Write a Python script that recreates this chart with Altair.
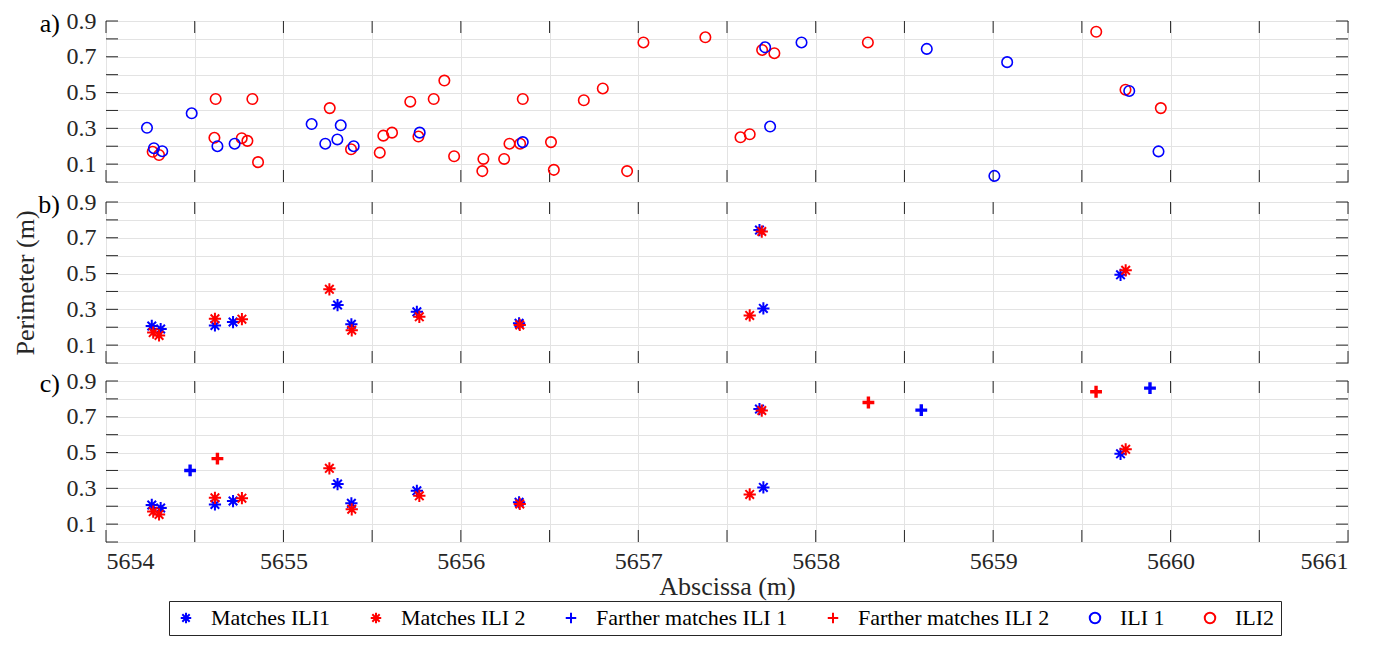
import altair as alt
import pandas as pd

# ---------------- data ----------------
SERIES = ["Matches ILI1", "Matches ILI 2", "Farther matches ILI 1",
          "Farther matches ILI 2", "ILI 1", "ILI2"]
PANEL_LABELS = ["a)", "b)", "c)"]

ili1_x = [5654.231, 5654.270, 5654.317, 5654.483, 5654.628, 5654.725, 5655.159,
          5655.236, 5655.304, 5655.323, 5655.396, 5655.768, 5656.349, 5657.715,
          5657.743, 5657.920, 5658.626, 5659.079, 5659.007, 5659.767, 5659.932]
ili1_y = [0.303, 0.189, 0.172, 0.384, 0.200, 0.214, 0.324, 0.214, 0.238, 0.317,
          0.200, 0.276, 0.223, 0.753, 0.310, 0.780, 0.744, 0.670, 0.034, 0.509,
          0.171]

ili2_x = [5654.263, 5654.299, 5654.618, 5654.611, 5654.765, 5654.797, 5654.825,
          5654.857, 5655.261, 5655.381, 5655.543, 5655.563, 5655.612, 5655.715,
          5655.761, 5655.847, 5655.907, 5655.962, 5656.121, 5656.127, 5656.244,
          5656.274, 5656.334, 5656.349, 5656.508, 5656.524, 5656.693, 5656.800,
          5656.937, 5657.029, 5657.378, 5657.576, 5657.628, 5657.698, 5657.767,
          5658.294, 5659.581, 5659.746, 5659.945]
ili2_y = [0.169, 0.151, 0.464, 0.247, 0.245, 0.230, 0.464, 0.111, 0.413, 0.183,
          0.164, 0.259, 0.276, 0.449, 0.254, 0.464, 0.567, 0.144, 0.061, 0.129,
          0.129, 0.214, 0.214, 0.464, 0.223, 0.068, 0.457, 0.523, 0.061, 0.780,
          0.809, 0.250, 0.267, 0.738, 0.720, 0.780, 0.840, 0.516, 0.413]

m1_x = [5654.258, 5654.308, 5654.614, 5654.716, 5655.305, 5655.383, 5655.752,
        5656.328, 5657.683, 5657.705, 5659.718]
m1_y = [0.207, 0.190, 0.210, 0.229, 0.324, 0.216, 0.286, 0.222, 0.743, 0.305, 0.493]
m2_x = [5654.266, 5654.299, 5654.614, 5654.766, 5655.259, 5655.385, 5655.766,
        5656.332, 5657.696, 5657.628, 5659.747]
m2_y = [0.170, 0.154, 0.247, 0.245, 0.412, 0.183, 0.258, 0.213, 0.735, 0.266, 0.518]

f1_x = [5654.474, 5658.595, 5659.884]
f1_y = [0.400, 0.737, 0.860]
f2_x = [5654.628, 5658.297, 5659.580]
f2_y = [0.466, 0.780, 0.840]

X_TICKS = [5654 + 0.5 * i for i in range(15)]
Y_TICKS = [round(0.1 * i, 1) for i in range(10)]

# ---------------- styling ----------------
FONT = "Liberation Serif"
INK = "#262626"
BLUE, RED = "#0000ff", "#ff0000"
STAR = "M0,-1L0,1M-1,0L1,0M-0.7,-0.7L0.7,0.7M-0.7,0.7L0.7,-0.7"
PLUS = "M0,-1L0,1M-1,0L1,0"
W, H = 1242, 161
TL = 12


def frame(xs, ys, name):
    return pd.DataFrame({"x": xs, "y": ys, "series": name})


circles = pd.concat([frame(ili2_x, ili2_y, "ILI2"), frame(ili1_x, ili1_y, "ILI 1")])
stars = pd.concat([frame(m1_x, m1_y, "Matches ILI1"), frame(m2_x, m2_y, "Matches ILI 2")])
pluses = pd.concat([frame(f1_x, f1_y, "Farther matches ILI 1"),
                    frame(f2_x, f2_y, "Farther matches ILI 2")])

LEG = dict(orient="none", legendX=63, legendY=580, direction="horizontal",
           columns=6, title=None)
color = alt.Color("series:N", scale=alt.Scale(domain=SERIES,
                  range=[BLUE, RED, BLUE, RED, BLUE, RED]),
                  legend=alt.Legend(**LEG))
shape = alt.Shape("series:N", scale=alt.Scale(domain=SERIES,
                  range=[STAR, STAR, PLUS, PLUS, "circle", "circle"]),
                  legend=alt.Legend(**LEG))


def enc_x(show_labels):
    if show_labels:
        ax = alt.Axis(values=X_TICKS, grid=True, ticks=False, domain=False,
                      labelExpr="datum.value % 1 == 0 ? format(datum.value, 'd') : ''",
                      labelPadding=7, title="Abscissa (m)", titlePadding=0)
    else:
        ax = alt.Axis(values=X_TICKS, grid=True, ticks=False, domain=False,
                      labels=False, title=None)
    return alt.X("x:Q", scale=alt.Scale(domain=[5654, 5661], nice=False, zero=False), axis=ax)


def enc_y(title):
    kw = dict(values=Y_TICKS, grid=True, ticks=False, domain=False,
              labelExpr="round(datum.value*10) % 2 == 1 ? format(datum.value, '.1f') : ''",
              labelPadding=10)
    if title:
        ax = alt.Axis(title=title, titlePadding=28, **kw)
    else:
        ax = alt.Axis(title=None, **kw)
    return alt.Y("y:Q", scale=alt.Scale(domain=[0, 0.9], nice=False, zero=False), axis=ax)


def panel(idx, layers_data, show_x, ytitle):
    X = enc_x(show_x)
    Y = enc_y(ytitle)
    layers = []
    xt = pd.DataFrame({"x": X_TICKS})
    yt = pd.DataFrame({"y": Y_TICKS})
    layers.append(alt.Chart(xt).mark_rule(color=INK, strokeWidth=1).encode(
        x=X, y=alt.value(0), y2=alt.value(TL)))
    layers.append(alt.Chart(xt).mark_rule(color=INK, strokeWidth=1).encode(
        x=X, y=alt.value(H - TL), y2=alt.value(H)))
    layers.append(alt.Chart(yt).mark_rule(color=INK, strokeWidth=1).encode(
        y=Y, x=alt.value(0), x2=alt.value(TL)))
    layers.append(alt.Chart(yt).mark_rule(color=INK, strokeWidth=1).encode(
        y=Y, x=alt.value(W - TL), x2=alt.value(W)))
    for df, kind in layers_data:
        if kind == "circle":
            mk = dict(filled=False, size=110, strokeWidth=1.6)
        elif kind == "star":
            mk = dict(filled=False, size=150, strokeWidth=2)
        else:
            mk = dict(filled=False, size=140, strokeWidth=3.4)
        layers.append(alt.Chart(df).mark_point(opacity=1, **mk).encode(
            x=X, y=Y, color=color, shape=shape))
    lab = pd.DataFrame({"t": [PANEL_LABELS[idx]]})
    layers.append(alt.Chart(lab).mark_text(align="right", baseline="middle",
                                           fontSize=26, font=FONT, color="black").encode(
        text="t:N", x=alt.value(-46), y=alt.value(3)))
    return alt.layer(*layers).properties(width=W, height=H)


pa = panel(0, [(circles, "circle")], False, None)
pb = panel(1, [(stars, "star")], False, "Perimeter (m)")
pc = panel(2, [(stars, "star"), (pluses, "plus")], True, None)

chart = alt.vconcat(pa, pb, pc, spacing=4).properties(
    padding={"left": 3, "top": 0, "right": 0, "bottom": 0}
).configure_view(
    stroke=INK, strokeWidth=1
).configure_axis(
    labelFont=FONT, labelFontSize=24, labelColor=INK, titleFont=FONT,
    titleFontSize=26, titleFontWeight="normal", titleColor=INK,
    gridColor="#e3e3e3", gridOpacity=1, gridWidth=1
).configure_legend(
    labelFont=FONT, labelFontSize=22, labelColor="black", symbolSize=110,
    symbolStrokeWidth=2, strokeColor=INK, padding=6, columnPadding=34,
    labelOffset=14, labelLimit=400
)

chart.save("out.html", embed_options={"renderer": "svg", "actions": False})
